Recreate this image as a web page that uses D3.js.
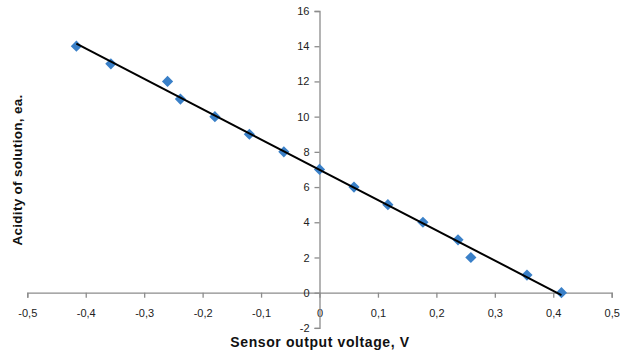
<!DOCTYPE html>
<html><head><meta charset="utf-8">
<script src="https://cdn.jsdelivr.net/npm/d3@7"></script>
<style>body{margin:0;background:#fff}svg{display:block}</style>
</head><body><svg id="c" width="622" height="355"></svg>
<script>
const voltage = [-0.416, -0.357, -0.260, -0.238, -0.179, -0.120, -0.061, 0.0, 0.059, 0.117, 0.177, 0.237, 0.259, 0.355, 0.414];
const acidity = [14, 13, 12, 11, 10, 9, 8, 7, 6, 5, 4, 3, 2, 1, 0];
const xTicks = [-0.5, -0.4, -0.3, -0.2, -0.1, 0, 0.1, 0.2, 0.3, 0.4, 0.5];
const yTicks = [-2, 0, 2, 4, 6, 8, 10, 12, 14, 16];
const xTitle = "Sensor output voltage, V";
const yTitle = "Acidity of solution, ea.";

const svg = d3.select("#c");
const x = d3.scaleLinear().domain([-0.5, 0.5]).range([27.3, 611.7]);
const y = d3.scaleLinear().domain([-2, 16]).range([327.9, 11]);
const fmt = d => (d === 0 ? "0" : d3.format(".1f")(d).replace(".", ",").replace("−", "-"));
const font = "'Liberation Sans', Arial, sans-serif";
const axisColor = "#8c8c8c";

// x axis at y=0
const gx = svg.append("g").attr("transform", `translate(0,${y(0)})`)
  .call(d3.axisBottom(x).tickValues(xTicks).tickSize(5).tickPadding(12).tickFormat(fmt));
gx.select(".domain").attr("stroke", axisColor).attr("stroke-width", 1.3);
gx.selectAll(".tick line").attr("stroke", axisColor).attr("stroke-width", 1.3);
gx.selectAll(".tick text").attr("font-family", font).attr("font-size", 11).attr("fill", "#222");

// y axis at x=0
const gy = svg.append("g").attr("transform", `translate(${x(0)},0)`)
  .call(d3.axisLeft(y).tickValues(yTicks).tickSize(5).tickPadding(5).tickFormat(d => d3.format("d")(d).replace("−", "-")));
gy.select(".domain").attr("stroke", axisColor).attr("stroke-width", 1.3);
gy.selectAll(".tick line").attr("stroke", axisColor).attr("stroke-width", 1.3);
gy.selectAll(".tick text").attr("font-family", font).attr("font-size", 11).attr("fill", "#222");

// regression line
const pts = voltage.map((v, i) => [v, acidity[i]]);
const mx = d3.mean(voltage), my = d3.mean(acidity);
const slope = d3.sum(pts, p => (p[0] - mx) * (p[1] - my)) / d3.sum(pts, p => (p[0] - mx) ** 2);
const icpt = my - slope * mx;
const [x0, x1] = d3.extent(voltage);

// markers
svg.append("g").selectAll("path").data(pts).join("path")
  .attr("d", "M0,-5.6L5.6,0L0,5.6L-5.6,0Z")
  .attr("transform", d => `translate(${x(d[0])},${y(d[1])})`)
  .attr("fill", "#3a80c8");

svg.append("line")
  .attr("x1", x(x0)).attr("y1", y(slope * x0 + icpt))
  .attr("x2", x(x1)).attr("y2", y(slope * x1 + icpt))
  .attr("stroke", "#000").attr("stroke-width", 2);

svg.append("text").attr("x", 320).attr("y", 347).attr("text-anchor", "middle")
  .attr("font-family", font).attr("font-weight", "bold").attr("font-size", 14)
  .attr("letter-spacing", 0.6).attr("fill", "#111")
  .text(xTitle);
svg.append("text").attr("transform", "translate(22,170) rotate(-90)").attr("text-anchor", "middle")
  .attr("font-family", font).attr("font-weight", "bold").attr("font-size", 13.5)
  .attr("letter-spacing", 0.3).attr("fill", "#111")
  .text(yTitle);
</script></body></html>
